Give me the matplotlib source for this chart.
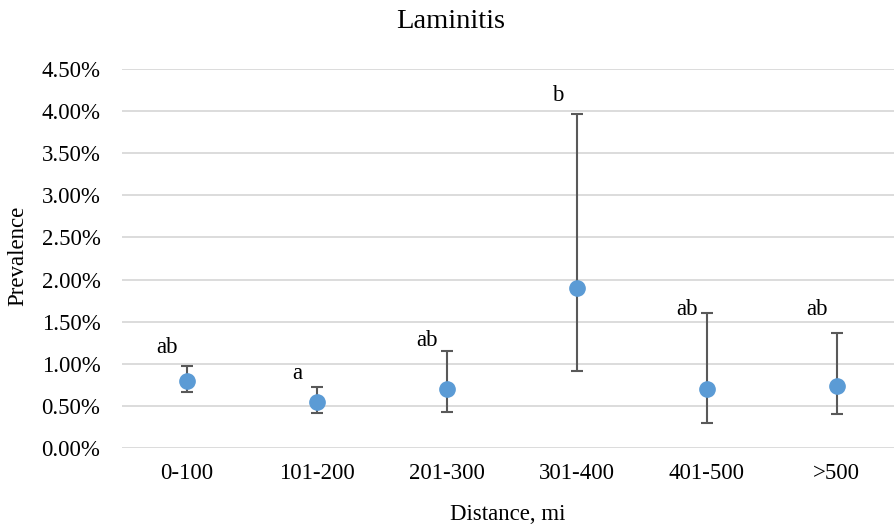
import matplotlib
matplotlib.use("Agg")
import matplotlib.pyplot as plt
from matplotlib.ticker import PercentFormatter, MultipleLocator

categories = ["0-100", "101-200", "201-300", "301-400", "401-500", ">500"]
prevalence = [0.80, 0.55, 0.70, 1.90, 0.70, 0.74]          # %
upper = [0.97, 0.73, 1.15, 3.96, 1.60, 1.36]               # %
lower = [0.665, 0.41, 0.43, 0.91, 0.30, 0.40]              # %
letters = ["ab", "a", "ab", "b", "ab", "ab"]
letter_y = [1.19, 0.88, 1.28, 4.18, 1.65, 1.65]            # %

plt.rcParams['font.family'] = ['Liberation Serif', 'DejaVu Serif']

fig = plt.figure(figsize=(8.94, 5.31), dpi=100)
ax = fig.add_axes([122/894, 1-448/531, 1-122/894, (448-69)/531])

x = list(range(len(categories)))
yerr = [[p - l for p, l in zip(prevalence, lower)],
        [u - p for p, u in zip(prevalence, upper)]]
ax.errorbar(x, prevalence, yerr=yerr, fmt='none', ecolor='#595959',
            elinewidth=1.5, capsize=4.3, capthick=1.5, zorder=3)
ax.plot(x, prevalence, 'o', color='#5B9BD5', markersize=11, zorder=4)

for xi, t, ly in zip(x, letters, letter_y):
    ax.text(xi - 0.15, ly, t, ha='center', va='center', fontsize=16.5, color='black')

ax.set_xlim(-0.5, 5.44)
ax.set_ylim(0, 4.5)
ax.yaxis.set_major_locator(MultipleLocator(0.5))
ax.yaxis.set_major_formatter(PercentFormatter(decimals=2))
ax.set_xticks(x)
ax.set_xticklabels(categories)
ax.grid(axis='y', color='#d9d9d9', linewidth=1.3)
ax.set_axisbelow(True)
for s in ax.spines.values():
    s.set_visible(False)
ax.tick_params(axis='both', length=0, labelsize=16.5, colors='black')
ax.tick_params(axis='y', pad=15.5)
ax.tick_params(axis='x', pad=11)

fig.text(451/894, 1-22/531, "Laminitis", ha='center', va='center', fontsize=20.5)
fig.text(508/894, 1-514/531, "Distance, mi", ha='center', va='center', fontsize=16.5)
fig.text(18/894, 1-256/531, "Prevalence", ha='center', va='center', fontsize=16.5, rotation=90)

fig.savefig("out.png", dpi=100)
